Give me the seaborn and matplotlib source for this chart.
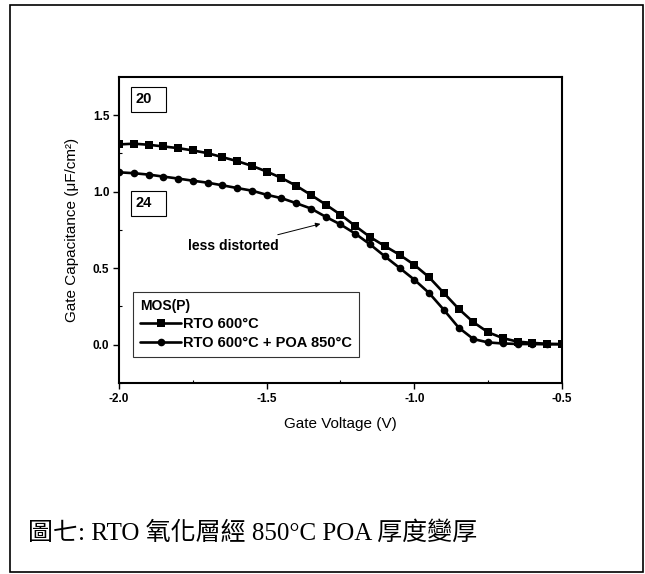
import matplotlib
matplotlib.use("Agg")
import matplotlib.pyplot as plt
from matplotlib.patches import Rectangle
import pandas as pd
import seaborn as sns

# Gate voltage sweep (V)
voltage = [-2.00, -1.95, -1.90, -1.85, -1.80, -1.75, -1.70, -1.65, -1.60, -1.55,
           -1.50, -1.45, -1.40, -1.35, -1.30, -1.25, -1.20, -1.15, -1.10, -1.05,
           -1.00, -0.95, -0.90, -0.85, -0.80, -0.75, -0.70, -0.65, -0.60, -0.55,
           -0.50]

# Gate capacitance (uF/cm^2)
cap_rto = [1.309, 1.314, 1.307, 1.296, 1.285, 1.270, 1.252, 1.226, 1.200, 1.169,
           1.132, 1.090, 1.039, 0.979, 0.916, 0.850, 0.776, 0.704, 0.645, 0.588,
           0.522, 0.441, 0.338, 0.235, 0.147, 0.081, 0.043, 0.020, 0.012, 0.006,
           0.004]
cap_rto_poa = [1.127, 1.121, 1.112, 1.099, 1.086, 1.072, 1.059, 1.042, 1.024, 1.007,
               0.980, 0.958, 0.925, 0.890, 0.836, 0.786, 0.726, 0.656, 0.578, 0.502,
               0.425, 0.338, 0.228, 0.112, 0.037, 0.015, 0.008, 0.005, 0.004, 0.003,
               0.003]

series_names = ["RTO 600°C", "RTO 600°C + POA 850°C"]
series_markers = ["s", "o"]
x_ticks = [-2.0, -1.5, -1.0, -0.5]
y_ticks = [0.0, 0.5, 1.0, 1.5]
thickness_labels = ["20", "24"]

df = pd.concat([
    pd.DataFrame({"V": voltage, "C": cap_rto, "sample": series_names[0]}),
    pd.DataFrame({"V": voltage, "C": cap_rto_poa, "sample": series_names[1]}),
])

sns.set_theme(style="ticks")
plt.rcParams["font.family"] = ["Liberation Sans", "DejaVu Sans"]
plt.rcParams["axes.unicode_minus"] = False
plt.rcParams["text.color"] = "black"
plt.rcParams["axes.labelcolor"] = "black"
plt.rcParams["xtick.color"] = "black"
plt.rcParams["ytick.color"] = "black"

fig = plt.figure(figsize=(6.45, 5.74), dpi=100)
ax = fig.add_axes([0.1845, 0.3328, 0.6868, 0.5331])

sns.lineplot(data=df, x="V", y="C", hue="sample", style="sample",
             hue_order=series_names, style_order=series_names,
             palette=["black", "black"], markers=dict(zip(series_names, series_markers)),
             dashes=False, markersize=5.5, markeredgewidth=0, linewidth=1.9,
             ax=ax, legend=True)

ax.set_xlim(-2.0, -0.5)
ax.set_ylim(-0.25, 1.75)
ax.set_xticks(x_ticks)
ax.set_yticks(y_ticks)
ax.set_xticklabels([f"{t:.1f}" for t in x_ticks], fontweight="bold", fontsize=8.5)
ax.set_yticklabels([f"{t:.1f}" for t in y_ticks], fontweight="bold", fontsize=8.5)
ax.set_xticks([-1.75, -1.25, -0.75], minor=True)
ax.set_yticks([-0.25, 0.25, 0.75, 1.25], minor=True)
ax.tick_params(axis="both", which="major", direction="out", length=4, width=1,
               color="black", pad=3)
ax.tick_params(axis="both", which="minor", direction="in", length=2.5, width=0.8,
               color="black")
for s in ax.spines.values():
    s.set_visible(True)
    s.set_color("black")
    s.set_linewidth(1.5)

ax.set_xlabel("Gate Voltage (V)", fontsize=11, labelpad=9)
ax.set_ylabel("Gate Capacitance (μF/cm²)", fontsize=11, labelpad=10)

# Oxide thickness tags
for (bx, by), lab in zip([(0.027, 0.885), (0.027, 0.545)], thickness_labels):
    ax.add_patch(Rectangle((bx, by), 0.08, 0.083, transform=ax.transAxes,
                           fc="white", ec="black", lw=0.8, zorder=5))
    ax.text(bx + 0.01, by + 0.042, lab, transform=ax.transAxes, ha="left",
            va="center", fontsize=10.5, fontweight="bold", zorder=6)

# Annotation for the post-oxidation-annealed curve
ax.annotate("less distorted", xy=(-1.318, 0.79), xytext=(-1.766, 0.645),
            fontsize=10, fontweight="bold", va="center", ha="left",
            arrowprops=dict(arrowstyle="-|>", color="black", lw=0.7,
                            mutation_scale=7, shrinkA=3, shrinkB=0))

leg = ax.legend(title="MOS(P)", loc="lower left", bbox_to_anchor=(0.032, 0.085),
                borderaxespad=0, frameon=True, fancybox=False, fontsize=10.5,
                title_fontproperties={"weight": "bold", "size": 10},
                handlelength=2.8, handletextpad=0.1, borderpad=0.5,
                labelspacing=0.3, edgecolor="black")
leg.get_frame().set_linewidth(0.8)
leg._legend_box.align = "left"
for t in leg.get_texts():
    t.set_fontweight("bold")

fig.text(0.044, 0.072, "圖七: RTO 氧化層經 850°C POA 厚度變厚",
         family=["Liberation Serif", "Noto Sans CJK TC"], fontsize=18,
         ha="left", va="center", color="black")

# Page frame
fig.patches.append(Rectangle((10 / 645, 2 / 574), 633 / 645, 567 / 574,
                             transform=fig.transFigure, fill=False,
                             ec="black", lw=1.2))

fig.savefig("out.png", dpi=100, facecolor="white")
